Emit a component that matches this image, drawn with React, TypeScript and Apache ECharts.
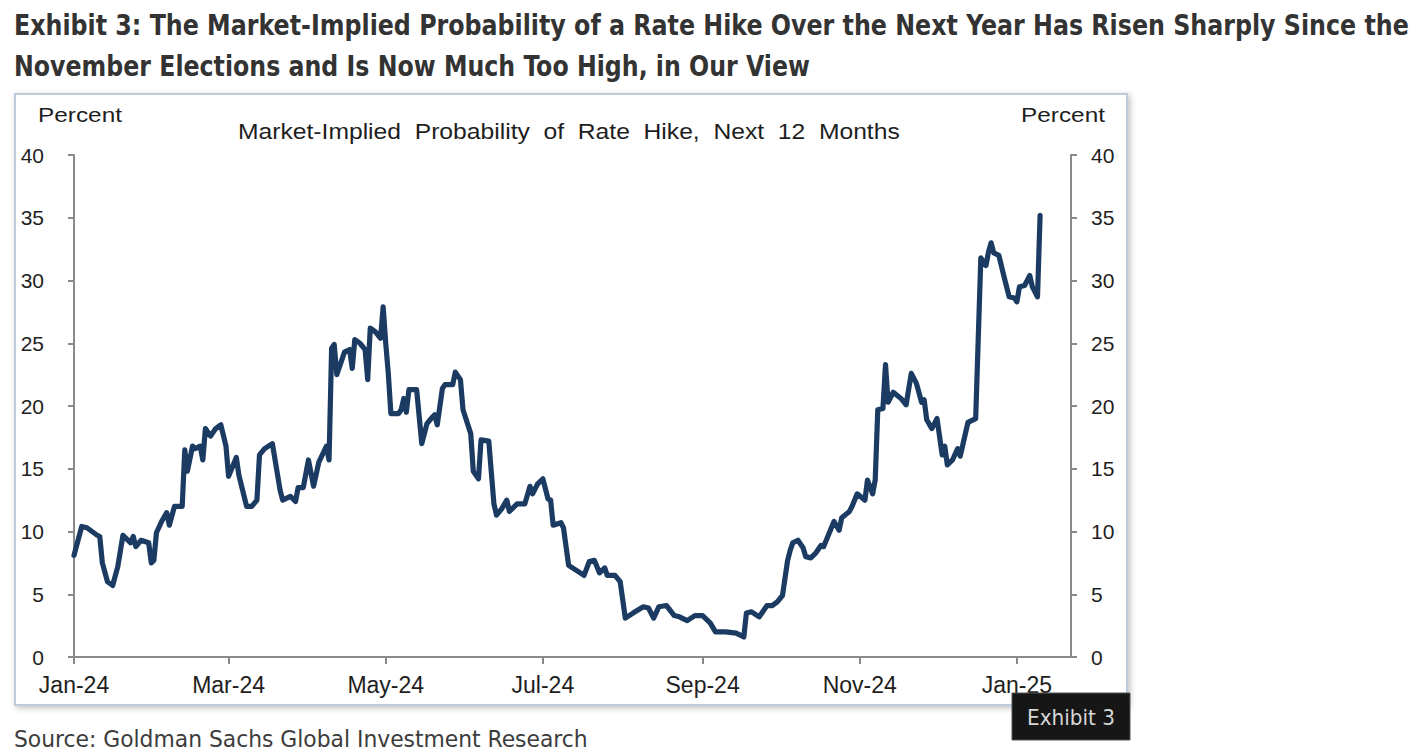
import React, { useEffect, useRef } from "react";
import * as echarts from "echarts";

// ---- Data ----
const dates: string[] = [
  "2024-01-01","2024-01-04","2024-01-06","2024-01-10","2024-01-11","2024-01-12","2024-01-14","2024-01-16","2024-01-18","2024-01-20",
  "2024-01-23","2024-01-24","2024-01-25","2024-01-27","2024-01-30","2024-01-31","2024-02-01","2024-02-02","2024-02-04","2024-02-06",
  "2024-02-07","2024-02-09","2024-02-12","2024-02-13","2024-02-14","2024-02-16","2024-02-17","2024-02-19","2024-02-20","2024-02-21",
  "2024-02-23","2024-02-25","2024-02-27","2024-02-29","2024-03-01","2024-03-04","2024-03-05","2024-03-08","2024-03-10","2024-03-12",
  "2024-03-13","2024-03-15","2024-03-18","2024-03-21","2024-03-22","2024-03-25","2024-03-27","2024-03-28","2024-03-30","2024-04-01",
  "2024-04-03","2024-04-05","2024-04-08","2024-04-09","2024-04-10","2024-04-11","2024-04-12","2024-04-14","2024-04-15","2024-04-17",
  "2024-04-18","2024-04-19","2024-04-21","2024-04-23","2024-04-24","2024-04-25","2024-04-27","2024-04-29","2024-04-30","2024-05-01",
  "2024-05-02","2024-05-03","2024-05-06","2024-05-07","2024-05-08","2024-05-09","2024-05-10","2024-05-13","2024-05-15","2024-05-17",
  "2024-05-19","2024-05-20","2024-05-21","2024-05-23","2024-05-24","2024-05-27","2024-05-28","2024-05-30","2024-05-31","2024-06-03",
  "2024-06-04","2024-06-06","2024-06-07","2024-06-10","2024-06-12","2024-06-13","2024-06-15","2024-06-17","2024-06-18","2024-06-21",
  "2024-06-24","2024-06-26","2024-06-27","2024-06-29","2024-07-01","2024-07-03","2024-07-04","2024-07-05","2024-07-08","2024-07-09",
  "2024-07-11","2024-07-14","2024-07-17","2024-07-19","2024-07-21","2024-07-23","2024-07-25","2024-07-26","2024-07-29","2024-07-31",
  "2024-08-02","2024-08-05","2024-08-09","2024-08-11","2024-08-13","2024-08-15","2024-08-18","2024-08-21","2024-08-23","2024-08-26",
  "2024-08-29","2024-09-01","2024-09-04","2024-09-06","2024-09-10","2024-09-14","2024-09-17","2024-09-18","2024-09-20","2024-09-23",
  "2024-09-26","2024-09-28","2024-09-30","2024-10-02","2024-10-04","2024-10-05","2024-10-06","2024-10-08","2024-10-10","2024-10-11",
  "2024-10-13","2024-10-15","2024-10-17","2024-10-18","2024-10-22","2024-10-24","2024-10-25","2024-10-28","2024-10-29","2024-10-31",
  "2024-11-03","2024-11-04","2024-11-06","2024-11-07","2024-11-08","2024-11-10","2024-11-11","2024-11-12","2024-11-14","2024-11-17",
  "2024-11-19","2024-11-21","2024-11-23","2024-11-25","2024-11-26","2024-11-27","2024-11-29","2024-12-01","2024-12-03","2024-12-04",
  "2024-12-05","2024-12-07","2024-12-09","2024-12-10","2024-12-13","2024-12-16","2024-12-18","2024-12-20","2024-12-21","2024-12-22",
  "2024-12-23","2024-12-25","2024-12-27","2024-12-29","2024-12-31","2025-01-01","2025-01-02","2025-01-04","2025-01-06","2025-01-07",
  "2025-01-09","2025-01-10",
];

const probability: number[] = [
  8.1, 10.4, 10.3, 9.7, 9.6, 7.5, 6.0, 5.7, 7.2, 9.7,
  9.1, 9.6, 8.8, 9.3, 9.1, 7.5, 7.7, 9.9, 10.8, 11.5,
  10.5, 12.0, 12.0, 16.5, 14.8, 16.8, 16.6, 16.8, 15.7, 18.2,
  17.6, 18.2, 18.5, 16.8, 14.4, 15.9, 14.5, 12.0, 12.0, 12.5,
  16.1, 16.6, 17.0, 13.3, 12.5, 12.8, 12.4, 13.5, 13.5, 15.7,
  13.6, 15.5, 16.8, 15.7, 24.6, 24.9, 22.5, 23.7, 24.3, 24.5,
  23.0, 25.3, 25.0, 24.5, 22.1, 26.2, 25.9, 25.4, 27.9, 25.0,
  22.6, 19.4, 19.4, 19.7, 20.6, 19.5, 21.3, 21.3, 17.0, 18.6,
  19.1, 19.3, 18.5, 21.4, 21.7, 21.7, 22.7, 22.1, 19.7, 17.8,
  14.8, 14.2, 17.3, 17.2, 12.2, 11.3, 11.8, 12.5, 11.6, 12.2,
  12.2, 13.6, 13.0, 13.8, 14.2, 12.6, 12.5, 10.5, 10.7, 10.3,
  7.3, 6.9, 6.5, 7.6, 7.7, 6.7, 7.1, 6.5, 6.5, 6.0,
  3.1, 3.5, 4.0, 3.9, 3.1, 4.0, 4.1, 3.3, 3.2, 2.9,
  3.3, 3.3, 2.7, 2.0, 2.0, 1.9, 1.6, 3.5, 3.6, 3.2,
  4.1, 4.1, 4.4, 4.9, 7.7, 8.5, 9.1, 9.3, 8.7, 8.0,
  7.9, 8.3, 8.9, 8.8, 10.8, 10.1, 11.1, 11.6, 12.0, 13.0,
  12.5, 14.1, 13.0, 14.1, 19.7, 19.8, 23.3, 20.3, 21.1, 20.6,
  20.1, 22.6, 21.8, 20.3, 20.5, 18.9, 18.2, 19.0, 16.1, 16.8,
  15.3, 15.7, 16.6, 16.0, 18.7, 19.0, 31.8, 31.2, 32.3, 33.0,
  32.2, 32.0, 30.3, 28.7, 28.6, 28.3, 29.5, 29.6, 30.4, 29.5,
  28.7, 35.2,
];

const xTickDates: string[] = ["2024-01-01", "2024-03-01", "2024-05-01", "2024-07-01", "2024-09-01", "2024-11-01", "2025-01-01"];
const xTickLabels: string[] = ["Jan-24", "Mar-24", "May-24", "Jul-24", "Sep-24", "Nov-24", "Jan-25"];
const xAxisStart = "2024-01-01";
const xAxisEnd = "2025-01-22";
const yMin = 0;
const yMax = 40;
const yStep = 5;

const titleLine1 = "Exhibit 3: The Market-Implied Probability of a Rate Hike Over the Next Year Has Risen Sharply Since the";
const titleLine2 = "November Elections and Is Now Much Too High, in Our View";
const chartSubtitle = "Market-Implied  Probability  of  Rate  Hike,  Next  12  Months";
const unitLabel = "Percent";
const sourceText = "Source: Goldman Sachs Global Investment Research";
const badgeText = "Exhibit 3";

// days elapsed since the axis start (UTC, so no DST drift)
const dayOf = (s: string) => {
  const [y, m, d] = s.split("-").map(Number);
  const [y0, m0, d0] = xAxisStart.split("-").map(Number);
  return Math.round((Date.UTC(y, m - 1, d) - Date.UTC(y0, m0 - 1, d0)) / 86400000);
};

const NARROW = '"Liberation Sans Narrow", "Arial Narrow", "DejaVu Sans Condensed", sans-serif';
const SANS = '"Liberation Sans", Arial, sans-serif';

function measure(text: string, font: string): number {
  const c = document.createElement("canvas").getContext("2d");
  if (!c) return 1;
  c.font = font;
  return c.measureText(text).width || 1;
}

export default function App() {
  const ref = useRef<HTMLDivElement>(null);

  useEffect(() => {
    if (!ref.current) return;
    const chart = echarts.init(ref.current, undefined, { renderer: "svg" });

    const tickDays = xTickDates.map(dayOf);
    const seriesData = dates.map((d, i) => [dayOf(d), probability[i]]);

    const titleFont = `bold 29px ${NARROW}`;
    const s1 = (1410 - 14) / measure(titleLine1, titleFont);
    const s2 = (810 - 14) / measure(titleLine2, titleFont);
    const srcFont = `23px ${NARROW}`;
    const s3 = (588 - 14) / measure(sourceText, srcFont);
    const subFont = `22px ${SANS}`;
    const s4 = (900 - 238) / measure(chartSubtitle, subFont);
    const unitFont = `21px ${SANS}`;
    const s5 = 84 / measure(unitLabel, unitFont);
    const badgeFont = `22px ${NARROW}`;
    const s6 = 88 / measure(badgeText, badgeFont);

    const yAxisCommon = {
      type: "value" as const,
      min: yMin,
      max: yMax,
      interval: yStep,
      splitLine: { show: false },
      axisLine: { show: true, lineStyle: { color: "#8a8a8a", width: 2 } },
      axisTick: { show: true, inside: false, length: 6, lineStyle: { color: "#8a8a8a", width: 2 } },
    };

    chart.setOption({
      animation: false,
      backgroundColor: "#ffffff",
      grid: { left: 74, right: 1416 - 1071, top: 155, bottom: 752 - 657, containLabel: false },
      xAxis: {
        type: "value",
        min: dayOf(xAxisStart),
        max: dayOf(xAxisEnd),
        splitLine: { show: false },
        axisLine: { show: true, onZero: false, lineStyle: { color: "#8a8a8a", width: 2 } },
        axisTick: { show: true, length: 7, customValues: tickDays, lineStyle: { color: "#8a8a8a", width: 2 } },
        axisLabel: {
          customValues: tickDays,
          margin: 16,
          fontSize: 23,
          fontFamily: SANS,
          color: "#1e1e1e",
          formatter: (v: number) => {
            const idx = tickDays.indexOf(Math.round(v));
            return idx >= 0 ? xTickLabels[idx] : "";
          },
        },
      },
      yAxis: [
        {
          ...yAxisCommon,
          position: "left",
          axisLabel: { margin: 30, fontSize: 21, fontFamily: SANS, color: "#1e1e1e" },
        },
        {
          ...yAxisCommon,
          position: "right",
          axisLabel: { margin: 20, fontSize: 21, fontFamily: SANS, color: "#1e1e1e" },
        },
      ],
      series: [
        {
          type: "line",
          yAxisIndex: 0,
          data: seriesData,
          showSymbol: false,
          symbol: "none",
          lineStyle: { color: "#1b3b63", width: 5.2, join: "round", cap: "round" },
          z: 3,
        },
      ],
      graphic: [
        {
          type: "rect",
          z: -10,
          silent: true,
          shape: { x: 15, y: 94, width: 1112, height: 611 },
          style: {
            fill: "#ffffff",
            stroke: "#bccbd9",
            lineWidth: 2,
            shadowBlur: 6,
            shadowOffsetX: 2,
            shadowOffsetY: 2,
            shadowColor: "rgba(0,0,0,0.25)",
          },
        },
        {
          type: "text",
          x: 14,
          y: 25,
          scaleX: s1,
          style: { text: titleLine1, font: titleFont, fill: "#333333", align: "left", verticalAlign: "middle" },
        },
        {
          type: "text",
          x: 14,
          y: 66,
          scaleX: s2,
          style: { text: titleLine2, font: titleFont, fill: "#333333", align: "left", verticalAlign: "middle" },
        },
        {
          type: "text",
          x: 238,
          y: 131,
          scaleX: s4,
          style: { text: chartSubtitle, font: subFont, fill: "#1e1e1e", align: "left", verticalAlign: "middle" },
        },
        {
          type: "text",
          x: 38,
          y: 115,
          scaleX: s5,
          style: { text: unitLabel, font: unitFont, fill: "#1e1e1e", align: "left", verticalAlign: "middle" },
        },
        {
          type: "text",
          x: 1105,
          y: 115,
          scaleX: s5,
          style: { text: unitLabel, font: unitFont, fill: "#1e1e1e", align: "right", verticalAlign: "middle" },
        },
        {
          type: "text",
          x: 14,
          y: 739,
          scaleX: s3,
          style: { text: sourceText, font: srcFont, fill: "#3c3c3c", align: "left", verticalAlign: "middle" },
        },
        {
          type: "group",
          z: 100,
          children: [
            {
              type: "rect",
              z: 100,
              shape: { x: 1012, y: 693, width: 118, height: 47 },
              style: { fill: "#161616", stroke: "#555555", lineWidth: 1 },
            },
            {
              type: "text",
              z: 101,
              x: 1071,
              y: 717,
              scaleX: s6,
              style: { text: badgeText, font: badgeFont, fill: "#d6d6d6", align: "center", verticalAlign: "middle" },
            },
          ],
        },
      ],
    });

    return () => {
      chart.dispose();
    };
  }, []);

  return (
    <div
      ref={ref}
      style={{ position: "fixed", left: 0, top: 0, width: 1416, height: 752, background: "#ffffff" }}
    />
  );
}
